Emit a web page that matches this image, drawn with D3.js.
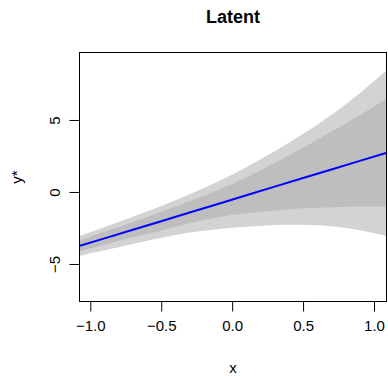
<!DOCTYPE html>
<html>
<head>
<meta charset="utf-8">
<script src="https://cdn.jsdelivr.net/npm/d3@7"></script>
<style>
  html, body { margin: 0; padding: 0; background: #ffffff; }
  svg { display: block; font-family: "Liberation Sans", Arial, Helvetica, sans-serif; }
</style>
</head>
<body>
<svg id="chart" width="388" height="376"></svg>
<script>
// ---- data ----
const xs        = [-1.08, -0.9, -0.7, -0.5, -0.3, -0.1, 0.1, 0.3, 0.5, 0.7, 0.9, 1.09];
const fit       = [-3.76, -3.22, -2.62, -2.03, -1.43, -0.83, -0.23, 0.37, 0.97, 1.56, 2.16, 2.73];
const innerUp   = [-3.38, -2.77, -2.09, -1.39, -0.65, 0.13, 1.02, 2.02, 3.07, 4.18, 5.33, 6.49];
const innerLow  = [-4.14, -3.67, -3.15, -2.67, -2.17, -1.75, -1.48, -1.28, -1.13, -1.06, -1.01, -1.03];
const outerUp   = [-3.08, -2.44, -1.72, -0.97, -0.16, 0.72, 1.72, 2.82, 4.02, 5.36, 6.86, 8.46];
const outerLow  = [-4.44, -4.05, -3.62, -3.18, -2.82, -2.58, -2.42, -2.30, -2.28, -2.38, -2.65, -3.05];
const xTicks    = [-1.0, -0.5, 0.0, 0.5, 1.0];
const xTickLabels = ["\u22121.0", "\u22120.5", "0.0", "0.5", "1.0"];
const yTicks    = [-5, 0, 5];
const yTickLabels = ["\u22125", "0", "5"];
const titleText = "Latent";
const xLabel = "x";
const yLabel = "y*";

// ---- layout ----
const L = 79.5, R = 386.5, T = 52, B = 302;
const svg = d3.select("#chart");

const x = d3.scaleLinear().domain([-1.0761, 1.0881]).range([L, R]);
const y = d3.scaleLinear().domain([-7.64, 9.72]).range([B, T]);

const rows = xs.map((v, i) => ({x: v, fit: fit[i], iu: innerUp[i], il: innerLow[i], ou: outerUp[i], ol: outerLow[i]}));

svg.append("defs").append("clipPath").attr("id", "plotclip")
  .append("rect").attr("x", L).attr("y", T).attr("width", R - L).attr("height", B - T);

const g = svg.append("g").attr("clip-path", "url(#plotclip)");

const areaOuter = d3.area().curve(d3.curveNatural)
  .x(d => x(d.x)).y0(d => y(d.ol)).y1(d => y(d.ou));
const areaInner = d3.area().curve(d3.curveNatural)
  .x(d => x(d.x)).y0(d => y(d.il)).y1(d => y(d.iu));
const lineFit = d3.line().x(d => x(d.x)).y(d => y(d.fit));

g.append("path").datum(rows).attr("d", areaOuter).attr("fill", "#d3d3d3");
g.append("path").datum(rows).attr("d", areaInner).attr("fill", "#bebebe");
g.append("path").datum(rows).attr("d", lineFit).attr("fill", "none")
  .attr("stroke", "#0000ff").attr("stroke-width", 2);

// box
svg.append("rect").attr("x", L).attr("y", T + 0.5).attr("width", R - L).attr("height", B - T - 1)
  .attr("fill", "none").attr("stroke", "#000").attr("stroke-width", 1);

// x axis
const xAxis = d3.axisBottom(x).tickValues(xTicks).tickSize(10).tickPadding(5)
  .tickFormat((d, i) => xTickLabels[i]);
const gx = svg.append("g").attr("transform", `translate(0,${B - 0.5})`).call(xAxis);
gx.select(".domain").remove();
gx.selectAll(".tick line").attr("stroke", "#000");
gx.selectAll(".tick text").attr("font-size", 15).attr("fill", "#000")
  .attr("dy", null).attr("y", 29).attr("font-family", "Liberation Sans, Arial, sans-serif");

// y axis
const yAxis = d3.axisLeft(y).tickValues(yTicks).tickSize(10)
  .tickFormat((d, i) => yTickLabels[i]);
const gy = svg.append("g").attr("transform", `translate(${L},0)`).call(yAxis);
gy.select(".domain").remove();
gy.selectAll(".tick line").attr("stroke", "#000");
gy.selectAll(".tick text").attr("font-size", 15).attr("fill", "#000")
  .attr("x", null).attr("dy", null)
  .attr("text-anchor", "middle")
  .attr("transform", "translate(-20,0) rotate(-90)")
  .attr("font-family", "Liberation Sans, Arial, sans-serif");

// title
svg.append("text").attr("x", (L + R) / 2).attr("y", 23).attr("text-anchor", "middle")
  .attr("font-size", 18).attr("font-weight", "bold").attr("fill", "#000").text(titleText);

// axis labels
svg.append("text").attr("x", (L + R) / 2).attr("y", 373).attr("text-anchor", "middle")
  .attr("font-size", 15).attr("fill", "#000").text(xLabel);
svg.append("text").attr("transform", `translate(22,${(T + B) / 2}) rotate(-90)`)
  .attr("text-anchor", "middle").attr("font-size", 15).attr("fill", "#000").text(yLabel);
</script>
</body>
</html>
